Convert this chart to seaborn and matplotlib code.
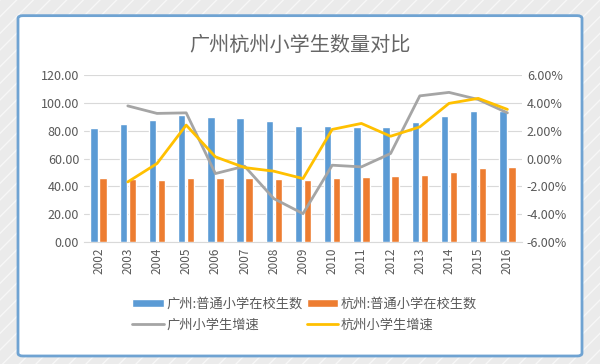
import numpy as np
import pandas as pd
import matplotlib.pyplot as plt
import seaborn as sns
from matplotlib.patches import FancyBboxPatch, Rectangle
from matplotlib.ticker import FuncFormatter, MultipleLocator

# data
years = [str(y) for y in range(2002, 2017)]
gz_students = [82.0, 85.1, 87.7, 90.9, 89.9, 89.4, 86.8, 83.1, 83.0, 82.4, 82.4, 86.0, 90.4, 94.0, 94.0]
hz_students = [45.8, 45.2, 44.6, 45.8, 46.3, 45.8, 45.3, 44.6, 45.8, 47.0, 47.4, 48.2, 50.6, 53.0, 54.2]
gz_growth = [np.nan, 3.78, 3.24, 3.28, -1.08, -0.55, -2.88, -3.96, -0.48, -0.60, 0.36, 4.50, 4.75, 4.24, 3.28]
hz_growth = [np.nan, -1.68, -0.36, 2.40, 0.12, -0.65, -0.91, -1.44, 2.09, 2.52, 1.60, 2.27, 3.96, 4.32, 3.53]

bar_names = ['广州:普通小学在校生数', '杭州:普通小学在校生数']
line_names = ['广州小学生增速', '杭州小学生增速']

bars = pd.DataFrame({
    'year': years * 2,
    'value': gz_students + hz_students,
    'series': [bar_names[0]] * len(years) + [bar_names[1]] * len(years),
})
lines = pd.DataFrame({
    'pos': list(range(len(years))) * 2,
    'value': gz_growth + hz_growth,
    'series': [line_names[0]] * len(years) + [line_names[1]] * len(years),
}).dropna()

sns.set_style('white')
plt.rcParams['font.family'] = ['Noto Sans CJK SC', 'DejaVu Sans']

text_col = '#595959'
grid_col = '#D9D9D9'

fig = plt.figure(figsize=(6, 3.64), dpi=100, facecolor='#EBEBEB')

# textured outer background + white card
fig.patches.append(Rectangle((0, 0), 1, 1, transform=fig.transFigure,
                             facecolor='none', edgecolor='#F7F7F7', hatch='//', lw=0, zorder=0))
fig.patches.append(FancyBboxPatch((0.03, 0.022), 0.94, 0.935, transform=fig.transFigure,
                                  boxstyle='round,pad=0,rounding_size=0.008',
                                  facecolor='white', edgecolor='#6FA3D2', lw=2, zorder=1))

ax = fig.add_axes([0.14, 0.335, 0.73, 0.459])
ax.set_zorder(2)
sns.barplot(data=bars, x='year', y='value', hue='series', palette=['#5B9BD5', '#ED7D31'],
            saturation=1, width=0.62, gap=0.18, ax=ax, legend=True, zorder=3)
ax.set_ylim(0, 120)
ax.yaxis.set_major_locator(MultipleLocator(20))
ax.yaxis.set_major_formatter(FuncFormatter(lambda v, p: f'{v:.2f}'))
ax.grid(axis='y', color=grid_col, lw=0.8)
ax.set_axisbelow(True)
ax.set_xlim(-0.5, len(years) - 0.5)
ax.set_xlabel('')
ax.set_ylabel('')
for s in ['top', 'left', 'right']:
    ax.spines[s].set_visible(False)
ax.spines['bottom'].set_color(grid_col)
ax.set_xticks(np.arange(-0.5, len(years)), minor=True)
ax.tick_params(axis='x', which='minor', length=3, color=grid_col, direction='out')
ax.tick_params(axis='x', rotation=90, labelsize=8.5, colors=text_col, length=0, pad=4)
ax.tick_params(axis='y', labelsize=9, colors=text_col, length=0)

ax2 = ax.twinx()
sns.lineplot(data=lines, x='pos', y='value', hue='series', palette=['#A5A5A5', '#FFC000'],
             lw=2, ax=ax2, legend=True)
ax2.set_ylim(-6, 6)
ax2.yaxis.set_major_locator(MultipleLocator(2))
ax2.yaxis.set_major_formatter(FuncFormatter(lambda v, p: f'{v:.2f}%'))
ax2.set_xlim(-0.5, len(years) - 0.5)
ax2.set_ylabel('')
ax2.set_xlabel('')
for s in ['top', 'left', 'right', 'bottom']:
    ax2.spines[s].set_visible(False)
ax2.tick_params(axis='y', labelsize=9, colors=text_col, length=0)

h1, l1 = ax.get_legend_handles_labels()
h2, l2 = ax2.get_legend_handles_labels()
ax.get_legend().remove()
ax2.get_legend().remove()
handles = [h1[0], h2[0], h1[1], h2[1]]
labels = [l1[0], l2[0], l1[1], l2[1]]
fig.legend(handles, labels, ncol=2, loc='upper center', bbox_to_anchor=(0.508, 0.215),
           frameon=False, fontsize=9.5, labelcolor=text_col, handlelength=2.4,
           handleheight=0.55, handletextpad=0.2, columnspacing=0.3, labelspacing=0.6)

fig.text(0.5, 0.875, '广州杭州小学生数量对比', ha='center', va='center', fontsize=14.5, color='#666666')

fig.savefig('out.png', dpi=100, facecolor=fig.get_facecolor())
